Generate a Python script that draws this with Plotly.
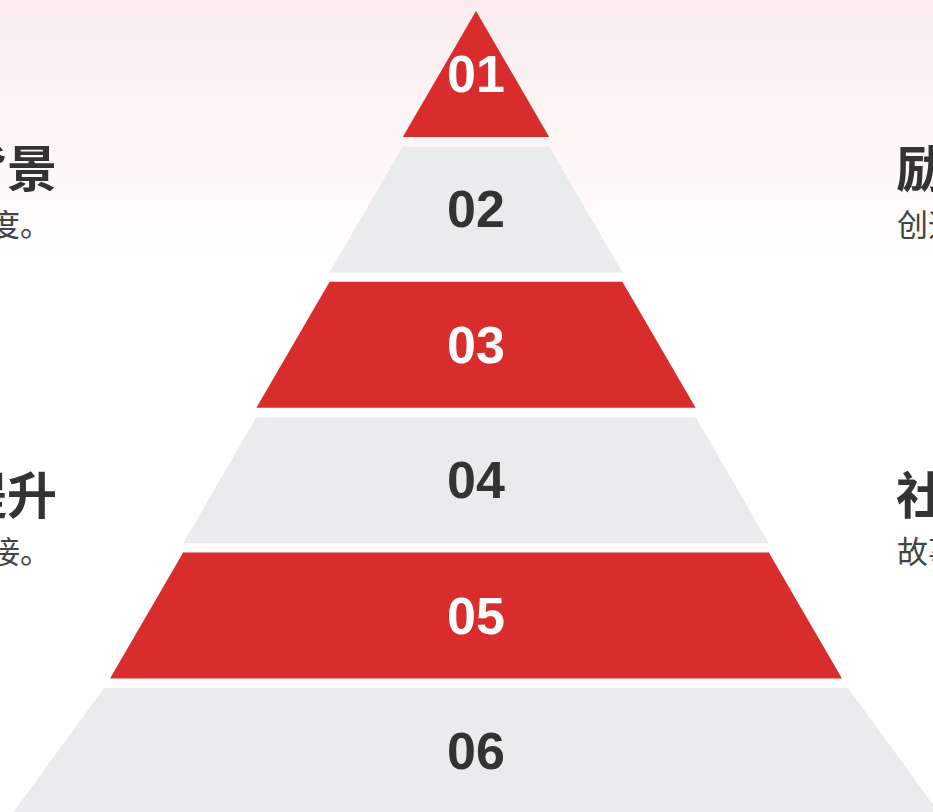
import numpy as np
import plotly.graph_objects as go

# ---- data ----
levels = ["01", "02", "03", "04", "05", "06"]
left_titles = ["品牌背景", "形象提升"]
left_subs = ["深入挖掘品牌文化深度。", "实现线上线下无缝衔接。"]
right_titles = ["励志故事", "社会责任"]
right_subs = ["创造价值回馈社会。", "故事传递温暖力量。"]

# ---- layout constants (pixels) ----
W, H = 933, 812
CX = 476
TOP = 11
STEP = 135.4
LAYER_H = 126
HALF_STEP = 73.2
RED = "#D92C2C"
GRAY = "#EAEBED"
DARK = "#333333"

fig = go.Figure()

# background gradient (pink -> white)
gy = np.arange(0, 300, 2)
gz = np.clip(gy / 280.0, 0, 1)
fig.add_trace(go.Heatmap(
    x=[0, W], y=gy, z=np.column_stack([gz, gz]),
    colorscale=[[0, "#FAECEC"], [1, "#FFFFFF"]],
    showscale=False, hoverinfo="skip", zmin=0, zmax=1,
))

annotations = []
n = len(levels)
for i, lab in enumerate(levels):
    y0 = TOP + i * STEP
    y1 = y0 + LAYER_H
    ht = HALF_STEP * i
    hb = HALF_STEP * (i + 1)
    if i == n - 1:
        ht += 6
        hb = ht + 92
    color = RED if i % 2 == 0 else GRAY
    fig.add_trace(go.Scatter(
        x=[CX - ht, CX + ht, CX + hb, CX - hb, CX - ht],
        y=[y0, y0, y1, y1, y0],
        mode="lines", fill="toself", fillcolor=color,
        line=dict(width=0, color=color), hoverinfo="skip", showlegend=False,
    ))
    annotations.append(dict(
        x=CX, y=(y0 + y1) / 2, xref="x", yref="y", text=f"<b>{lab}</b>",
        showarrow=False, xanchor="center", yanchor="middle",
        font=dict(family="Arial, Liberation Sans, sans-serif", size=52,
                  color="#FFFFFF" if i % 2 == 0 else DARK),
    ))

title_y = [165, 492]
sub_y = [222, 549]
cjk = "Noto Sans CJK SC, sans-serif"
for k in range(2):
    annotations.append(dict(x=59, y=title_y[k], xref="x", yref="y",
                            text=f"<b>{left_titles[k]}</b>", showarrow=False,
                            xanchor="right", yanchor="middle",
                            font=dict(family=cjk, size=50, color=DARK)))
    annotations.append(dict(x=53, y=sub_y[k], xref="x", yref="y",
                            text=left_subs[k], showarrow=False,
                            xanchor="right", yanchor="middle",
                            font=dict(family=cjk, size=31, color="#444444")))
    annotations.append(dict(x=894, y=title_y[k], xref="x", yref="y",
                            text=f"<b>{right_titles[k]}</b>", showarrow=False,
                            xanchor="left", yanchor="middle",
                            font=dict(family=cjk, size=50, color=DARK)))
    annotations.append(dict(x=895, y=sub_y[k], xref="x", yref="y",
                            text=right_subs[k], showarrow=False,
                            xanchor="left", yanchor="middle",
                            font=dict(family=cjk, size=31, color="#444444")))

fig.update_layout(
    width=W, height=H, margin=dict(l=0, r=0, t=0, b=0),
    paper_bgcolor="#FFFFFF", plot_bgcolor="#FFFFFF",
    xaxis=dict(range=[0, W], visible=False, fixedrange=True),
    yaxis=dict(range=[H, 0], visible=False, fixedrange=True),
    showlegend=False, annotations=annotations, hovermode=False,
)

fig.write_html("out.html", config={"displayModeBar": False},
               post_script="document.body.style.margin='0';document.body.style.overflow='hidden';")
